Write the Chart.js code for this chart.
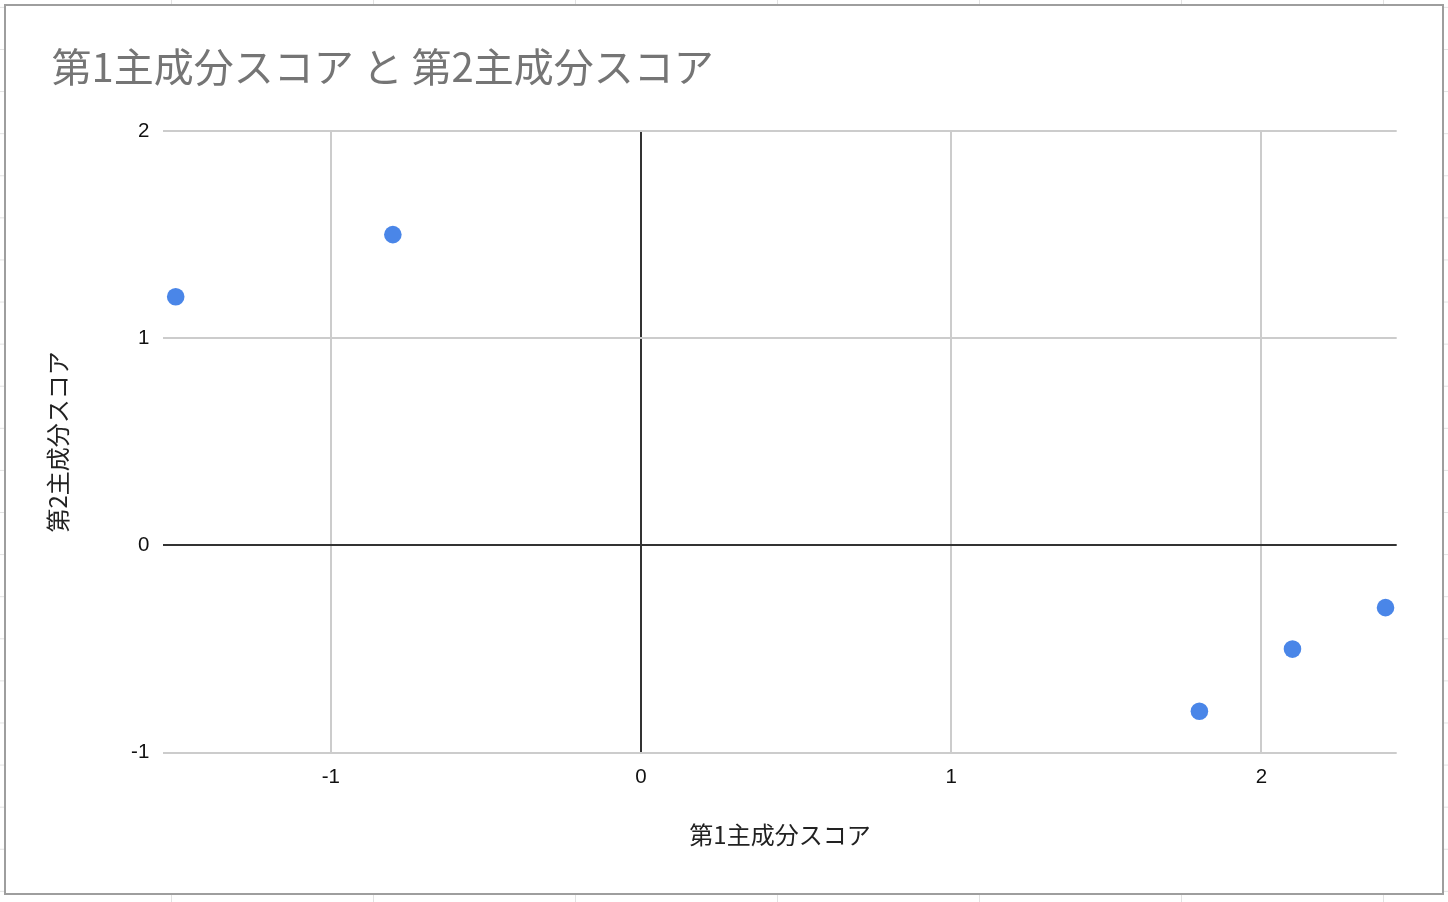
<!DOCTYPE html>
<html>
<head>
<meta charset="utf-8">
<script src="https://cdn.jsdelivr.net/npm/chart.js@4"></script>
<style>
  html, body { margin: 0; padding: 0; }
  body {
    width: 1448px; height: 902px; position: relative; overflow: hidden;
    background-color: #ffffff;
    background-image:
      linear-gradient(to right, #e2e2e2 1px, transparent 1px),
      linear-gradient(to bottom, #e2e2e2 1px, transparent 1px);
    background-size: 202px 100%, 100% 42.1px;
    background-position: 171px 0, 0 6.9px;
  }
  #wrap {
    position: absolute; left: 4px; top: 4px;
    width: 1436px; height: 887px;
    border: 2px solid #9e9e9e; background: #ffffff;
  }
  canvas { display: block; }
</style>
</head>
<body>
<div id="wrap"><canvas id="c"></canvas></div>
<script>
// ---- data ----
const chartTitle = "第1主成分スコア と 第2主成分スコア";
const xAxisTitle = "第1主成分スコア";
const yAxisTitle = "第2主成分スコア";
const pc1Scores = [-1.5, -0.8, 1.8, 2.1, 2.4];
const pc2Scores = [1.2, 1.5, -0.8, -0.5, -0.3];

const points = pc1Scores.map((x, i) => ({ x: x, y: pc2Scores[i] }));

const cjk = '"Noto Sans CJK JP", "Noto Sans", sans-serif';
const latin = '"Liberation Sans", Arial, sans-serif';

function gridColor(ctx) {
  return (ctx.tick && ctx.tick.value === 0) ? '#333333' : '#cccccc';
}

new Chart(document.getElementById('c'), {
  type: 'scatter',
  data: {
    datasets: [{
      data: points,
      backgroundColor: '#4a86e8',
      borderColor: '#4a86e8',
      borderWidth: 0,
      pointRadius: 8.8,
      pointHoverRadius: 8.8
    }]
  },
  options: {
    responsive: true,
    maintainAspectRatio: false,
    animation: false,
    events: [],
    layout: { padding: { left: 45.5, right: 45.3, top: 0, bottom: 0 } },
    plugins: {
      legend: { display: false },
      tooltip: { enabled: false },
      title: {
        display: true,
        text: chartTitle,
        align: 'start',
        color: '#757575',
        font: { family: cjk, size: 40, weight: 'normal', lineHeight: 1.2 },
        padding: { top: 36.5, bottom: 40.5 }
      }
    },
    scales: {
      x: {
        type: 'linear',
        min: -1.54,
        max: 2.436,
        border: { display: false },
        grid: { color: gridColor, lineWidth: 2, drawTicks: false },
        ticks: {
          stepSize: 1,
          includeBounds: false,
          padding: 12.3,
          color: '#111111',
          font: { family: latin, size: 20.5, lineHeight: 1.2 }
        },
        title: {
          display: true,
          text: xAxisTitle,
          color: '#222222',
          font: { family: cjk, size: 24, lineHeight: 1.2 },
          padding: { top: 0, bottom: 43.6 }
        },
        afterFit: (s) => { s.height = 140.3; }
      },
      y: {
        type: 'linear',
        min: -1,
        max: 2,
        border: { display: false },
        grid: { color: gridColor, lineWidth: 2, drawTicks: false },
        ticks: {
          stepSize: 1,
          padding: 14,
          color: '#111111',
          font: { family: latin, size: 20.5, lineHeight: 1.2 }
        },
        title: {
          display: true,
          text: yAxisTitle,
          color: '#222222',
          font: { family: cjk, size: 24, lineHeight: 0.5 },
          padding: 0
        },
        afterFit: (s) => { s.width = 111.8; }
      }
    }
  }
});
</script>
</body>
</html>
